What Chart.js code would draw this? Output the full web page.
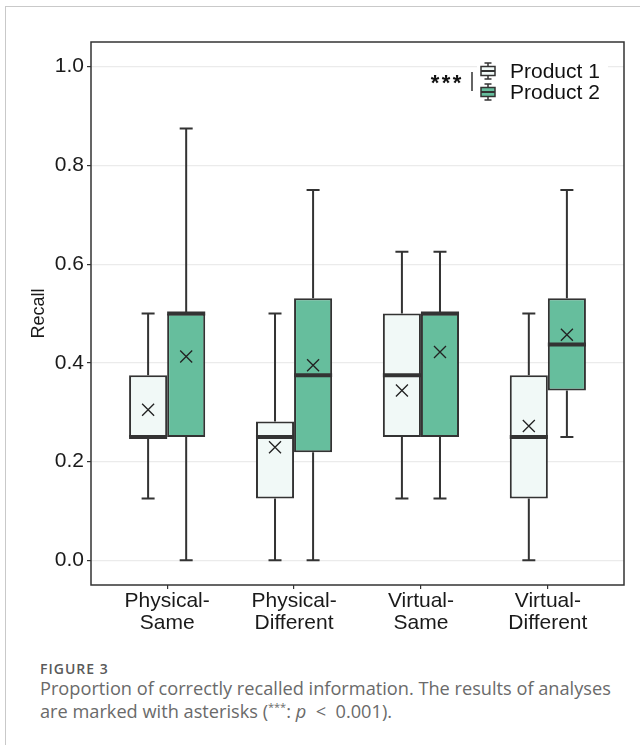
<!DOCTYPE html>
<html lang="en">
<head>
<meta charset="utf-8">
<title>Recall by condition</title>
<script src="https://cdn.jsdelivr.net/npm/chart.js"></script>
<style>
  body { margin: 0; background: #fff; width: 640px; height: 745px; position: relative; overflow: hidden; }
  .frame { position: absolute; left: 5px; top: 6px; width: 640px; height: 745px; border-top: 1px solid #c9c9c9; border-left: 1px solid #c9c9c9; }
  #chartBox { position: absolute; left: 0; top: 0; width: 640px; height: 640px; }
  .figno { position: absolute; left: 40px; top: 659px; font: 600 14px "Open Sans", sans-serif; color: #5a5a5a; letter-spacing: 1px; }
  .caption { position: absolute; left: 40px; top: 677px; font: 18.2px/23px "Open Sans", sans-serif; color: #6a6a6a; }
  .caption sup { font-size: 11px; line-height: 0; vertical-align: 7px; }
</style>
</head>
<body>
<div class="frame"></div>
<div id="chartBox"><canvas id="recallChart" width="640" height="640"></canvas></div>
<div class="figno">FIGURE 3</div>
<div class="caption">Proportion of correctly recalled information. The results of analyses<br>are marked with asterisks (<sup>***</sup>: <i>p</i>&nbsp;&nbsp;&lt;&nbsp; 0.001).</div>

<script>
// categories and tick labels
var categories = [['Physical-', 'Same'], ['Physical-', 'Different'], ['Virtual-', 'Same'], ['Virtual-', 'Different']];
var seriesNames = ['Product 1', 'Product 2'];
var yTicks = [0, 0.2, 0.4, 0.6, 0.8, 1.0];

// Product 1 box stats
var p1Min    = [0.125, 0,     0.125, 0];
var p1Q1     = [0.25,  0.125, 0.25,  0.125];
var p1Median = [0.25,  0.25,  0.375, 0.25];
var p1Q3     = [0.375, 0.281, 0.5,   0.375];
var p1Max    = [0.5,   0.5,   0.625, 0.5];
var p1Mean   = [0.305, 0.229, 0.344, 0.272];

// Product 2 box stats
var p2Min    = [0,     0,     0.125, 0.25];
var p2Q1     = [0.25,  0.219, 0.25,  0.344];
var p2Median = [0.5,   0.375, 0.5,   0.437];
var p2Q3     = [0.5,   0.531, 0.5,   0.531];
var p2Max    = [0.875, 0.75,  0.625, 0.75];
var p2Mean   = [0.413, 0.395, 0.422, 0.457];

var colors = ['#f1f9f7', '#66be9d'];
var ink = '#333333';
var fontFamily = '"Liberation Sans", Arial, sans-serif';

function boxData(q1, q3) {
  return categories.map(function (c, i) { return { x: i + 1, y: [q1[i], q3[i]] }; });
}

// whiskers, medians and means drawn on top of the floating bars
var boxExtras = {
  id: 'boxExtras',
  afterDatasetsDraw: function (chart) {
    var ctx = chart.ctx;
    var y = chart.scales.y;
    chart.data.datasets.forEach(function (ds, d) {
      var meta = chart.getDatasetMeta(d);
      var st = ds.stats;
      meta.data.forEach(function (bar, i) {
        var x = bar.x, half = bar.width / 2;
        ctx.save();
        ctx.strokeStyle = ink;
        ctx.lineWidth = 2;
        ctx.beginPath();
        ctx.moveTo(x, y.getPixelForValue(st.max[i]));
        ctx.lineTo(x, y.getPixelForValue(st.q3[i]));
        ctx.moveTo(x, y.getPixelForValue(st.q1[i]));
        ctx.lineTo(x, y.getPixelForValue(st.min[i]));
        // caps
        ctx.moveTo(x - 6.5, y.getPixelForValue(st.max[i]));
        ctx.lineTo(x + 6.5, y.getPixelForValue(st.max[i]));
        ctx.moveTo(x - 6.5, y.getPixelForValue(st.min[i]));
        ctx.lineTo(x + 6.5, y.getPixelForValue(st.min[i]));
        ctx.stroke();
        // median
        ctx.lineWidth = 4;
        ctx.beginPath();
        ctx.moveTo(x - half, y.getPixelForValue(st.median[i]));
        ctx.lineTo(x + half, y.getPixelForValue(st.median[i]));
        ctx.stroke();
        // mean
        var my = y.getPixelForValue(st.mean[i]);
        ctx.lineWidth = 1.3;
        ctx.strokeStyle = '#222';
        ctx.beginPath();
        ctx.moveTo(x - 6, my - 6); ctx.lineTo(x + 6, my + 6);
        ctx.moveTo(x + 6, my - 6); ctx.lineTo(x - 6, my + 6);
        ctx.stroke();
        ctx.restore();
      });
    });
  },
  afterDraw: function (chart) {
    var ctx = chart.ctx, a = chart.chartArea;
    ctx.save();
    // panel border
    ctx.strokeStyle = ink;
    ctx.lineWidth = 1.5;
    ctx.strokeRect(a.left, a.top, a.right - a.left, a.bottom - a.top);

    // legend
    var r = a.right;
    ctx.fillStyle = '#fff';
    ctx.fillRect(r - 147, a.top + 16, 131, 48);
    ctx.fillStyle = '#111';
    ctx.font = 'bold 22px ' + fontFamily;
    ctx.textBaseline = 'middle';
    ctx.textAlign = 'center';
    for (var s = 0; s < 3; s++) ctx.fillText('*', r - 189 + s * 11, a.top + 42);
    ctx.font = '21px ' + fontFamily;
    ctx.strokeStyle = '#111';
    ctx.lineWidth = 1.3;
    ctx.beginPath();
    ctx.moveTo(r - 152, a.top + 30);
    ctx.lineTo(r - 152, a.top + 49);
    ctx.stroke();
    ctx.textAlign = 'left';
    seriesNames.forEach(function (name, k) {
      var cy = a.top + 29 + k * 21;
      var cx = r - 136;
      ctx.strokeStyle = ink;
      ctx.lineWidth = 1.5;
      ctx.beginPath();
      ctx.moveTo(cx - 3.5, cy - 8); ctx.lineTo(cx + 3.5, cy - 8);
      ctx.moveTo(cx, cy - 8); ctx.lineTo(cx, cy - 4.5);
      ctx.moveTo(cx, cy + 4.5); ctx.lineTo(cx, cy + 8);
      ctx.moveTo(cx - 3.5, cy + 8); ctx.lineTo(cx + 3.5, cy + 8);
      ctx.stroke();
      ctx.fillStyle = colors[k];
      ctx.fillRect(cx - 7, cy - 4.5, 14, 9);
      ctx.strokeRect(cx - 7, cy - 4.5, 14, 9);
      ctx.lineWidth = 2;
      ctx.beginPath();
      ctx.moveTo(cx - 7, cy); ctx.lineTo(cx + 7, cy);
      ctx.stroke();
      ctx.fillStyle = '#111';
      ctx.fillText(name, r - 114, cy + 1);
    });
    ctx.restore();
  }
};

Chart.defaults.font.family = fontFamily;
Chart.defaults.font.size = 21;
Chart.defaults.color = '#1a1a1a';

new Chart(document.getElementById('recallChart'), {
  type: 'bar',
  data: {
    datasets: [
      {
        label: seriesNames[0],
        data: boxData(p1Q1, p1Q3),
        stats: { min: p1Min, q1: p1Q1, median: p1Median, q3: p1Q3, max: p1Max, mean: p1Mean },
        backgroundColor: colors[0],
        borderColor: ink,
        borderWidth: 2,
        borderSkipped: false
      },
      {
        label: seriesNames[1],
        data: boxData(p2Q1, p2Q3),
        stats: { min: p2Min, q1: p2Q1, median: p2Median, q3: p2Q3, max: p2Max, mean: p2Mean },
        backgroundColor: colors[1],
        borderColor: ink,
        borderWidth: 2,
        borderSkipped: false
      }
    ]
  },
  options: {
    responsive: false,
    animation: false,
    devicePixelRatio: 1,
    categoryPercentage: 0.6,
    barPercentage: 1,
    layout: { padding: { left: 0, top: 42, right: 16, bottom: 0 } },
    plugins: { legend: { display: false }, tooltip: { enabled: false } },
    scales: {
      x: {
        type: 'linear',
        min: 0.4,
        max: 4.6,
        offset: false,
        afterBuildTicks: function (scale) {
          scale.ticks = categories.map(function (c, i) { return { value: i + 1 }; });
        },
        afterFit: function (scale) { scale.height = 55; },
        ticks: {
          autoSkip: false,
          maxRotation: 0,
          padding: 1,
          font: { size: 21, lineHeight: 1.05 },
          callback: function (v) { return categories[Math.round(v) - 1]; }
        },
        grid: { offset: false, drawOnChartArea: false, tickLength: 4, tickColor: ink, lineWidth: 1.2 },
        border: { display: false }
      },
      y: {
        min: -0.05,
        max: 1.05,
        afterBuildTicks: function (scale) {
          scale.ticks = yTicks.map(function (v) { return { value: v }; });
        },
        afterFit: function (scale) { scale.width = 91; },
        ticks: {
          padding: 3,
          callback: function (v) { return v.toFixed(1); }
        },
        grid: { color: '#ebebeb', lineWidth: 1.2, tickLength: 4, tickColor: ink },
        border: { display: false },
        title: { display: true, text: 'Recall', font: { size: 18 }, padding: { top: 28, bottom: 0 } }
      }
    }
  },
  plugins: [boxExtras]
});
</script>
</body>
</html>
